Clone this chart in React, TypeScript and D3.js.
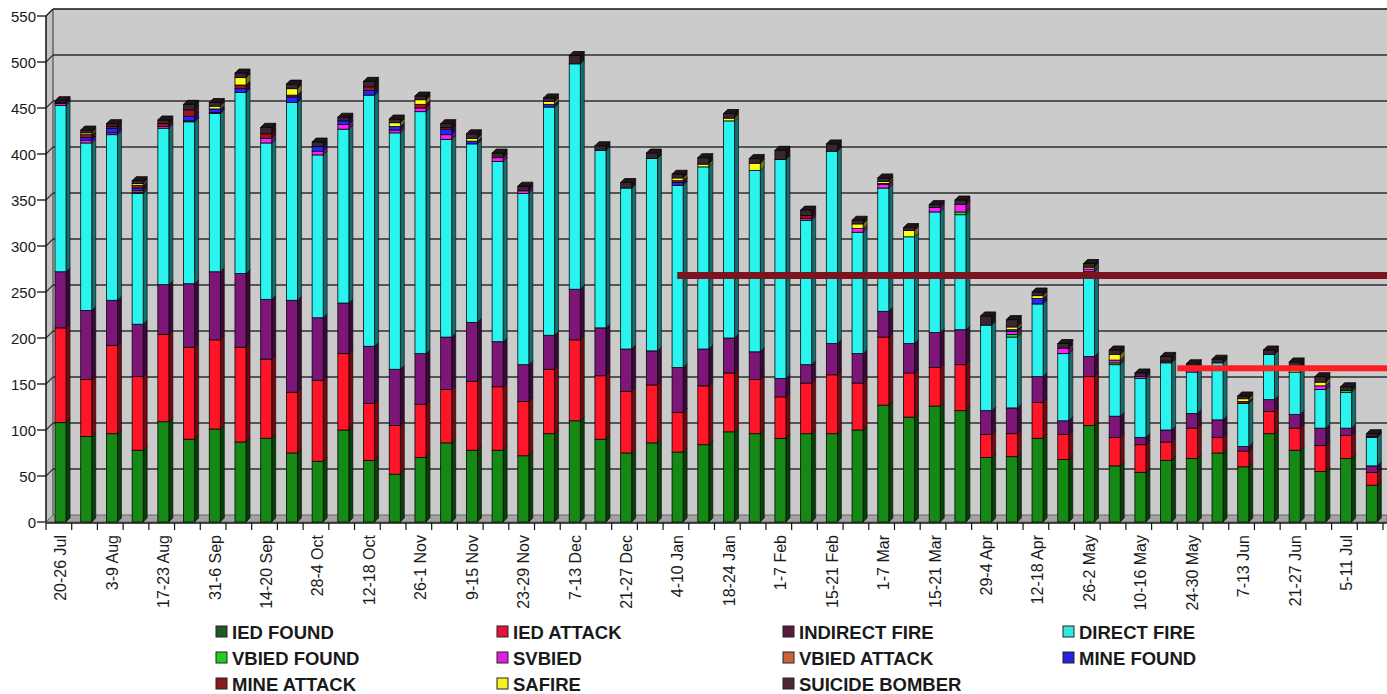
import React from 'react';
import * as d3 from 'd3';

const WEEKS = [
  '20-26 Jul', '27-2 Aug', '3-9 Aug', '10-16 Aug', '17-23 Aug', '24-30 Aug', '31-6 Sep', '7-13 Sep',
  '14-20 Sep', '21-27 Sep', '28-4 Oct', '5-11 Oct', '12-18 Oct', '19-25 Oct', '26-1 Nov', '2-8 Nov',
  '9-15 Nov', '16-22 Nov', '23-29 Nov', '30-6 Dec', '7-13 Dec', '14-20 Dec', '21-27 Dec', '28-3 Jan',
  '4-10 Jan', '11-17 Jan', '18-24 Jan', '25-31 Jan', '1-7 Feb', '8-14 Feb', '15-21 Feb', '22-28 Feb',
  '1-7 Mar', '8-14 Mar', '15-21 Mar', '22-28 Mar', '29-4 Apr', '5-11 Apr', '12-18 Apr', '19-25 Apr',
  '26-2 May', '3-9 May', '10-16 May', '17-23 May', '24-30 May', '31-6 Jun', '7-13 Jun', '14-20 Jun',
  '21-27 Jun', '28-4 Jul', '5-11 Jul', '12-18 Jul',
];

const IED_FOUND = [108, 93, 96, 78, 109, 90, 101, 87, 91, 75, 66, 100, 67, 52, 70, 86, 78, 78, 72, 96,
  110, 90, 75, 86, 76, 84, 98, 96, 91, 96, 96, 100, 127, 114, 126, 121, 70, 71, 91, 68,
  105, 61, 54, 67, 69, 75, 60, 96, 78, 55, 69, 40];
const IED_ATTACK = [103, 62, 96, 80, 95, 100, 97, 103, 86, 66, 88, 83, 62, 53, 58, 58, 75, 69, 59, 70,
  88, 69, 67, 63, 43, 64, 64, 59, 45, 55, 64, 51, 74, 48, 42, 50, 25, 25, 39, 27,
  53, 31, 30, 20, 33, 17, 17, 24, 24, 28, 25, 14];
const INDIRECT_FIRE = [61, 75, 49, 57, 54, 69, 74, 80, 65, 100, 68, 55, 62, 61, 55, 57, 64, 49, 40, 37,
  55, 52, 46, 37, 49, 40, 38, 30, 20, 20, 34, 32, 28, 32, 38, 38, 26, 28, 28, 15,
  22, 23, 8, 13, 16, 19, 5, 13, 15, 19, 8, 7];
const DIRECT_FIRE = [181, 182, 180, 142, 170, 176, 172, 197, 170, 215, 177, 189, 273, 257, 263, 215, 194, 196, 186, 248,
  245, 193, 175, 209, 198, 198, 236, 197, 238, 157, 209, 132, 134, 116, 131, 125, 93, 77, 79, 73,
  92, 56, 64, 73, 45, 62, 47, 49, 46, 42, 39, 31];
const VBIED_FOUND = [0, 0, 0, 0, 0, 0, 0, 0, 0, 0, 0, 0, 0, 0, 0, 0, 0, 0, 0, 0,
  0, 0, 0, 0, 0, 0, 0, 0, 0, 0, 0, 0, 0, 0, 0, 3, 0, 3, 0, 0,
  0, 2, 0, 0, 0, 0, 0, 0, 0, 0, 2, 0];
const SVBIED = [2, 3, 2, 1, 2, 1, 1, 0, 5, 0, 4, 5, 0, 3, 4, 5, 0, 4, 3, 0,
  0, 0, 0, 0, 0, 0, 0, 0, 0, 2, 0, 4, 4, 0, 5, 8, 0, 3, 0, 6,
  3, 3, 2, 0, 2, 0, 0, 0, 0, 4, 0, 1];
const VBIED_ATTACK = [0, 0, 0, 2, 0, 0, 0, 0, 0, 0, 0, 0, 0, 0, 0, 0, 0, 0, 0, 0,
  0, 0, 0, 0, 0, 0, 0, 0, 0, 0, 0, 0, 0, 0, 0, 0, 0, 0, 0, 0,
  0, 0, 0, 0, 0, 0, 0, 0, 0, 0, 0, 0];
const MINE_FOUND = [0, 3, 5, 3, 0, 5, 4, 4, 0, 6, 5, 4, 5, 4, 0, 6, 3, 0, 0, 3,
  0, 0, 0, 0, 3, 0, 0, 0, 0, 0, 0, 0, 0, 0, 0, 0, 0, 2, 6, 0,
  0, 0, 0, 0, 0, 0, 0, 0, 0, 0, 0, 0];
const MINE_ATTACK = [1, 3, 2, 3, 3, 7, 0, 4, 5, 2, 0, 0, 4, 0, 4, 2, 0, 0, 0, 0,
  0, 0, 0, 0, 2, 0, 0, 0, 0, 3, 0, 0, 1, 0, 0, 0, 0, 0, 0, 0,
  0, 0, 0, 2, 0, 0, 2, 0, 0, 0, 0, 0];
const SAFIRE = [0, 2, 0, 2, 0, 0, 3, 8, 0, 7, 0, 0, 0, 4, 5, 0, 3, 0, 0, 3,
  0, 0, 0, 0, 3, 3, 3, 8, 0, 0, 0, 5, 2, 7, 0, 0, 0, 3, 3, 0,
  2, 6, 0, 0, 0, 0, 3, 0, 3, 4, 0, 0];
const SUICIDE_BOMBER = [2, 3, 3, 3, 4, 6, 4, 5, 7, 5, 5, 4, 6, 4, 4, 4, 5, 5, 5, 4,
  9, 5, 6, 6, 4, 7, 5, 5, 10, 6, 8, 4, 4, 3, 3, 5, 10, 8, 4, 5,
  4, 5, 4, 5, 7, 4, 3, 5, 8, 6, 4, 3];

const SERIES_NAMES = ['IED FOUND', 'IED ATTACK', 'INDIRECT FIRE', 'DIRECT FIRE', 'VBIED FOUND', 'SVBIED',
  'VBIED ATTACK', 'MINE FOUND', 'MINE ATTACK', 'SAFIRE', 'SUICIDE BOMBER'];
const SERIES_VALUES = [IED_FOUND, IED_ATTACK, INDIRECT_FIRE, DIRECT_FIRE, VBIED_FOUND, SVBIED,
  VBIED_ATTACK, MINE_FOUND, MINE_ATTACK, SAFIRE, SUICIDE_BOMBER];
const SERIES_COLORS = ['#148a14', '#ff1428', '#7d1678', '#2af4f0', '#1ee61e', '#ff1eff',
  '#e8763a', '#2626ff', '#a0141e', '#ffff1e', '#3a2630'];
const LEGEND_COLORS = ['#1d5a22', '#e8103a', '#5a1c3c', '#30e8e0', '#20d020', '#e020e0',
  '#d0603a', '#2a20e0', '#8a1a1a', '#f8f020', '#4a2a30'];

const Y_TICKS = [0, 50, 100, 150, 200, 250, 300, 350, 400, 450, 500, 550];

// reference (average) lines: [value, starting category position]
const LINE_VALUES = [268, 167];
const LINE_STARTS = [24.55, 44.0];
const LINE_COLORS = ['#7c1420', '#ff1e24'];

export default function App() {
  const W = 1387;
  const H = 694;
  const DX = 7; // wall depth
  const DY = 7;
  const BD = 4; // bar depth

  const x = d3.scaleBand<number>().domain(d3.range(WEEKS.length)).range([46, 1383]).padding(0);
  const bw = x.bandwidth();
  const y = d3.scaleLinear().domain([0, 550]).range([522, 16]);
  const posX = (p: number) => 46 + p * bw;

  const rows = WEEKS.map((w, i) => {
    const r: any = { week: w };
    SERIES_NAMES.forEach((n, s) => { r[n] = SERIES_VALUES[s][i]; });
    return r;
  });
  const stacked = d3.stack<any>().keys(SERIES_NAMES)(rows);

  const plotL = 46;
  const plotR = W;
  const y0 = y(0);
  const yTop = y(550);

  const gridLines = Y_TICKS.filter((t) => t > 0 && t < 550);

  const bars: React.ReactNode[] = [];
  WEEKS.forEach((w, i) => {
    const fl = (x(i) as number) + bw * 0.35;
    const fw = bw * 0.43;
    const fr = fl + fw;
    // find top segment
    let topS = -1;
    stacked.forEach((layer, s) => {
      const d = layer[i];
      if (d[1] - d[0] > 0) topS = s;
    });
    stacked.forEach((layer, s) => {
      const d = layer[i];
      if (d[1] - d[0] <= 0) return;
      const ya = y(d[0]);
      const yb = y(d[1]);
      const c = SERIES_COLORS[s];
      const side = d3.color(c)!.darker(2.2).formatHex();
      bars.push(
        <g key={`b${i}-${s}`}>
          <polygon
            points={`${fr},${ya} ${fr + BD},${ya - BD} ${fr + BD},${yb - BD} ${fr},${yb}`}
            fill={side}
            stroke="#050505"
            strokeWidth={0.6}
          />
          <rect x={fl} y={yb} width={fw} height={ya - yb} fill={c} stroke="#050505" strokeWidth={0.8} />
          {s === topS && (
            <polygon
              points={`${fl},${yb} ${fl + BD},${yb - BD} ${fr + BD},${yb - BD} ${fr},${yb}`}
              fill={d3.color(c)!.darker(1.6).formatHex()}
              stroke="#050505"
              strokeWidth={0.8}
            />
          )}
        </g>
      );
    });
  });

  const legendColX = [216, 497, 783, 1063];
  const legendRowY = [632, 658, 684];

  return (
    <svg
      width={W}
      height={H}
      style={{ position: 'absolute', left: 0, top: 0, display: 'block', background: '#ffffff' }}
      fontFamily="'Liberation Sans', Arial, sans-serif"
    >
      {/* back wall */}
      <rect x={plotL + DX} y={yTop - DY} width={plotR - plotL - DX} height={y0 - yTop} fill="#cbcbcb" />
      {/* left side wall */}
      <polygon
        points={`${plotL},${y0} ${plotL + DX},${y0 - DY} ${plotL + DX},${yTop - DY} ${plotL},${yTop}`}
        fill="#c2c2c2"
      />
      {/* floor */}
      <polygon
        points={`${plotL},${y0} ${plotL + DX},${y0 - DY} ${plotR},${y0 - DY} ${plotR},${y0}`}
        fill="#a4a4a4"
        stroke="#555"
        strokeWidth={0.8}
      />
      {/* gridlines */}
      {gridLines.map((t) => (
        <g key={`g${t}`}>
          <line x1={plotL + DX} x2={plotR} y1={y(t) - DY} y2={y(t) - DY} stroke="#2e2e2e" strokeWidth={1.3} />
          <line x1={plotL} x2={plotL + DX} y1={y(t)} y2={y(t) - DY} stroke="#2e2e2e" strokeWidth={1.1} />
        </g>
      ))}
      {/* top border */}
      <line x1={plotL + DX} x2={plotR} y1={yTop - DY} y2={yTop - DY} stroke="#111" strokeWidth={1.5} />
      <line x1={plotL} x2={plotL + DX} y1={yTop} y2={yTop - DY} stroke="#111" strokeWidth={1.2} />
      <line x1={plotL + DX} x2={plotL + DX} y1={yTop - DY} y2={y0 - DY} stroke="#333" strokeWidth={1} />

      {/* bars */}
      {bars}

      {/* reference lines */}
      {LINE_VALUES.map((v, k) => (
        <line
          key={`ref${k}`}
          x1={posX(LINE_STARTS[k])}
          x2={W}
          y1={y(v)}
          y2={y(v)}
          stroke={LINE_COLORS[k]}
          strokeWidth={k === 0 ? 7 : 6}
        />
      ))}

      {/* y axis */}
      <line x1={plotL} x2={plotL} y1={yTop} y2={y0} stroke="#111" strokeWidth={1.5} />
      {Y_TICKS.map((t) => (
        <g key={`yt${t}`}>
          <line x1={plotL - 9} x2={plotL} y1={y(t)} y2={y(t)} stroke="#111" strokeWidth={1.3} />
          <text x={plotL - 10} y={y(t)} textAnchor="end" dominantBaseline="central" fontSize={15} fill="#1a1a1a">
            {t}
          </text>
        </g>
      ))}

      {/* x axis */}
      <line x1={plotL} x2={plotR} y1={y0 + 1} y2={y0 + 1} stroke="#111" strokeWidth={1.5} />
      {d3.range(WEEKS.length + 1).map((i) => (
        <line key={`xt${i}`} x1={posX(i)} x2={posX(i)} y1={y0 + 1} y2={y0 + 8} stroke="#111" strokeWidth={1.2} />
      ))}
      {WEEKS.map((w, i) =>
        i % 2 === 0 ? (
          <text
            key={`xl${i}`}
            transform={`translate(${(x(i) as number) + bw / 2 + 2},${y0 + 13}) rotate(-90)`}
            textAnchor="end"
            dominantBaseline="central"
            fontSize={16}
            fill="#1a1a1a"
          >
            {w}
          </text>
        ) : null
      )}

      {/* legend */}
      {SERIES_NAMES.map((n, s) => {
        const col = s % 4;
        const row = Math.floor(s / 4);
        const lx = legendColX[col];
        const ly = legendRowY[row];
        return (
          <g key={`lg${s}`}>
            <rect x={lx} y={ly - 6} width={11} height={11} fill={LEGEND_COLORS[s]} stroke="#222" strokeWidth={1} />
            <text x={lx + 16} y={ly} dominantBaseline="central" fontSize={18.5} fontWeight="bold" fill="#1a1a1a">
              {n}
            </text>
          </g>
        );
      })}
    </svg>
  );
}
